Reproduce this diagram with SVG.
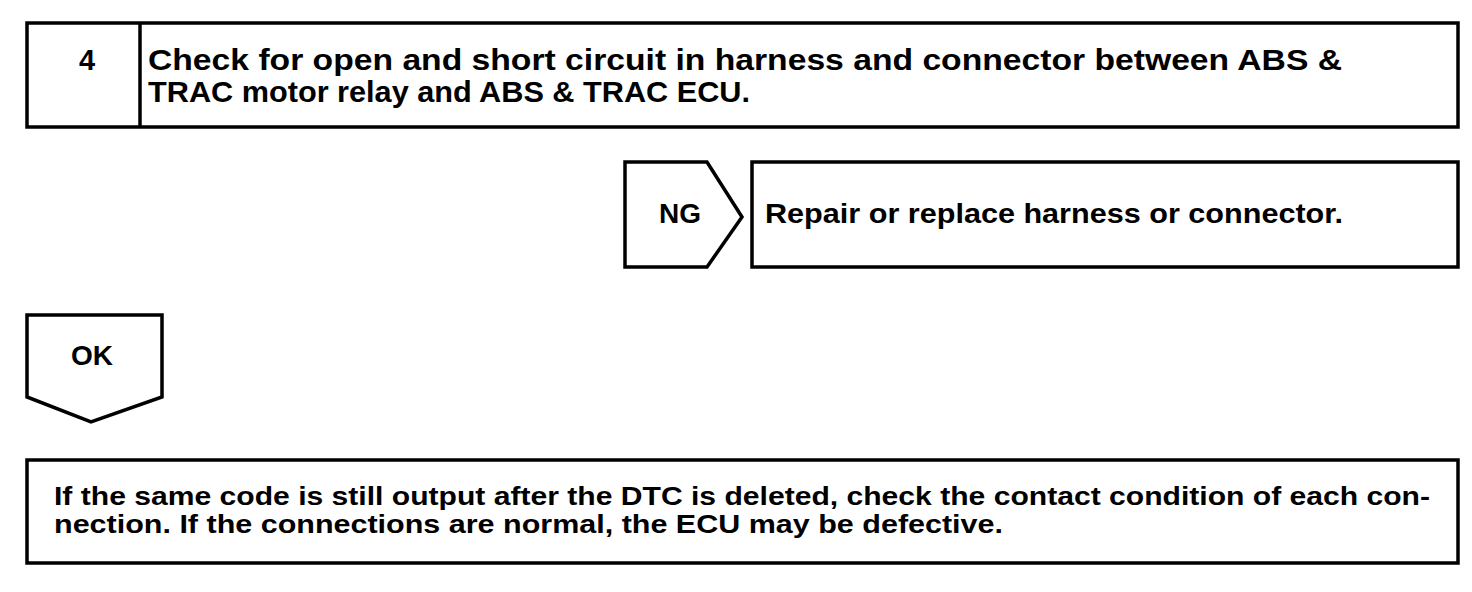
<svg xmlns="http://www.w3.org/2000/svg" width="1472" height="592" viewBox="0 0 1472 592">
<style>
.box{fill:#fff;stroke:#000;stroke-width:3.5}
.t{font-family:"Liberation Sans",Arial,sans-serif;font-weight:bold;fill:#000}
</style>
<rect width="1472" height="592" fill="#fff"/>
<g id="step4">
<rect class="box" x="27" y="23" width="1431" height="104"/>
<line x1="140" y1="23" x2="140" y2="127" stroke="#000" stroke-width="3.5"/>
<text class="t" x="87" y="70" font-size="29" text-anchor="middle">4</text>
<text class="t" x="148" y="70" font-size="30" textLength="1194" lengthAdjust="spacingAndGlyphs">Check for open and short circuit in harness and connector between ABS &amp;</text>
<text class="t" x="148" y="102" font-size="30" textLength="602" lengthAdjust="spacingAndGlyphs">TRAC motor relay and ABS &amp; TRAC ECU.</text>
</g>
<g id="connectors">
<g id="ng">
<path class="box" d="M625,162 H707 L742,217 L707,267 H625 Z"/>
<text class="t" x="680" y="223" font-size="28" text-anchor="middle">NG</text>
</g>
<g id="ok">
<path class="box" d="M27,315 H162 V397 L91,422 L27,397 Z"/>
<text class="t" x="92" y="365" font-size="28" text-anchor="middle">OK</text>
</g>
</g>
<g id="repair">
<rect class="box" x="752" y="162" width="706" height="105"/>
<text class="t" x="765" y="223" font-size="28" textLength="578" lengthAdjust="spacingAndGlyphs">Repair or replace harness or connector.</text>
</g>
<g id="note">
<rect class="box" x="27" y="460" width="1431" height="103"/>
<text class="t" x="54" y="505" font-size="26" textLength="1376" lengthAdjust="spacingAndGlyphs">If the same code is still output after the DTC is deleted, check the contact condition of each con-</text>
<text class="t" x="54" y="533" font-size="26" textLength="949" lengthAdjust="spacingAndGlyphs">nection. If the connections are normal, the ECU may be defective.</text>
</g>
</svg>
